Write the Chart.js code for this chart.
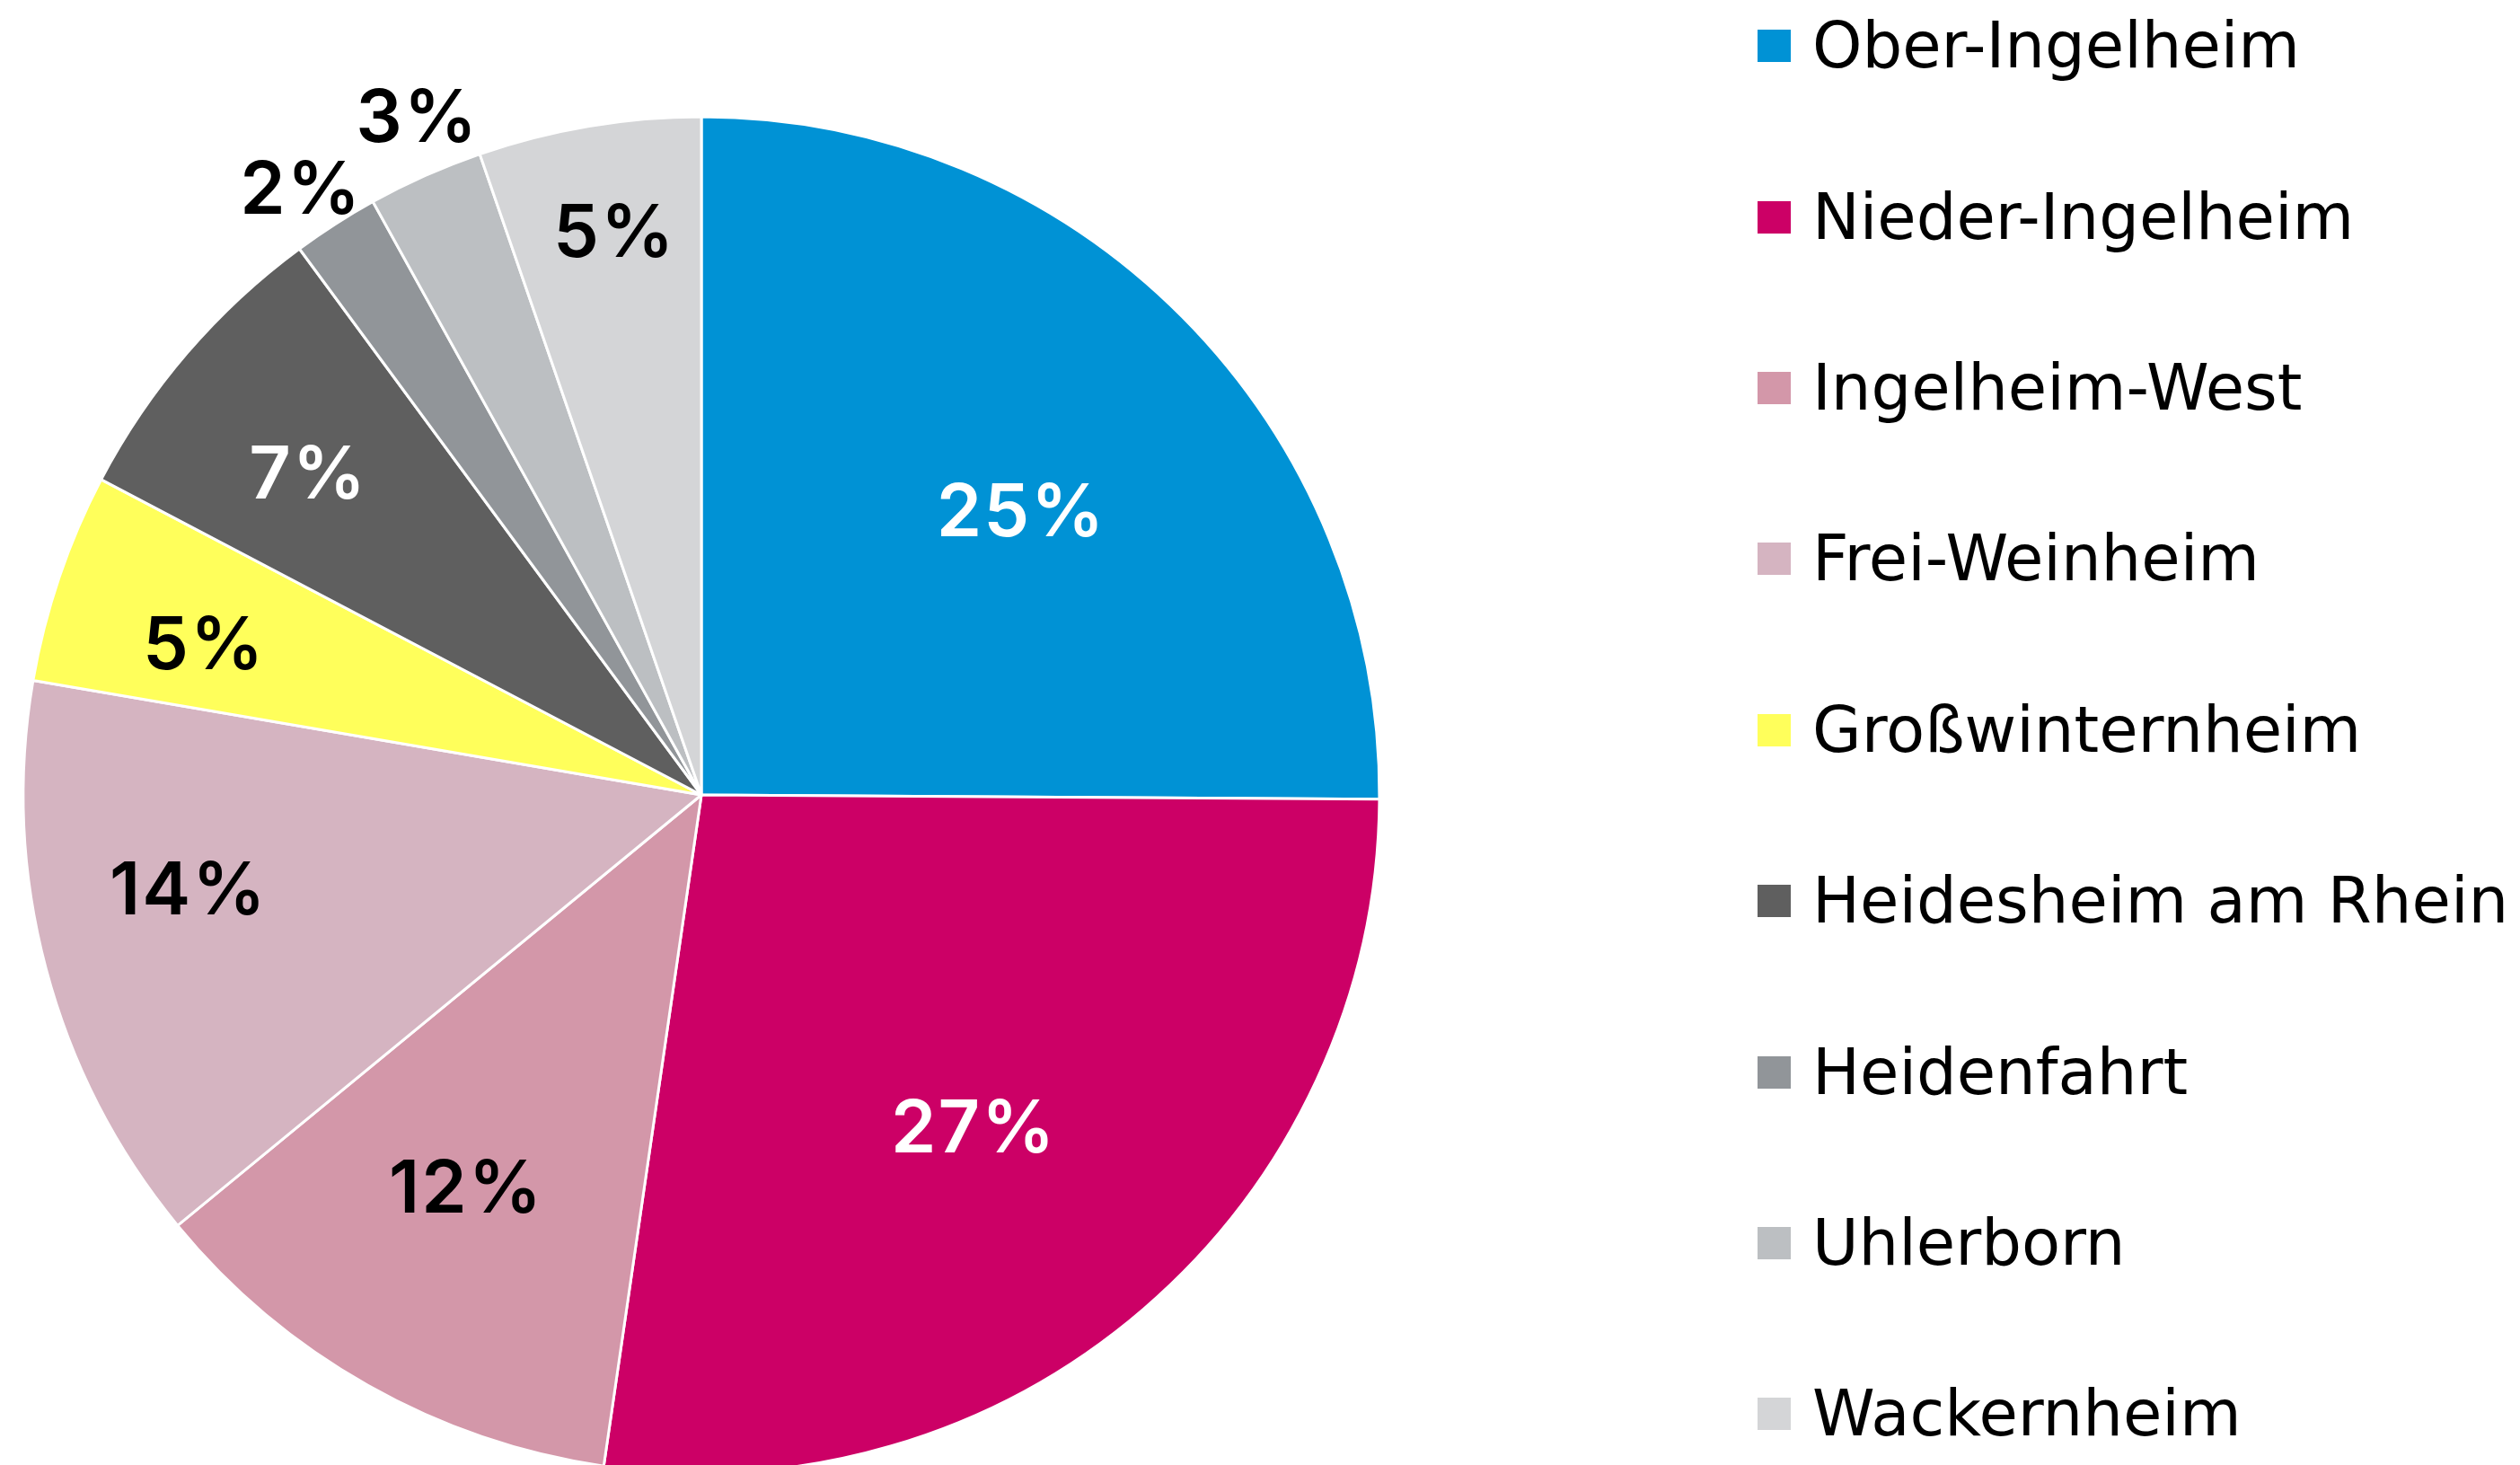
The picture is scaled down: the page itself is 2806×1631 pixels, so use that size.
<!DOCTYPE html>
<html>
<head>
<meta charset="utf-8">
<script src="https://cdn.jsdelivr.net/npm/chart.js@4.4.1/dist/chart.umd.min.js"></script>
<style>
  html, body { margin: 0; padding: 0; background: #fff; overflow: hidden; }
  body { width: 2806px; height: 1631px; position: relative; }
  #pieBox { position: absolute; left: 0; top: 0; width: 1562px; height: 1770px; }
  #legend {
    position: absolute; left: 1957px; top: -44px; margin: 0; padding: 0; list-style: none;
    font-family: 'DejaVu Sans', sans-serif; font-size: 70.5px; color: #000;
  }
  #legend li { height: 190.4px; display: flex; align-items: center; white-space: nowrap; }
  #legend .box { width: 37px; height: 36px; margin-right: 24px; flex: none; }
</style>
</head>
<body>
<div id="pieBox"><canvas id="chart"></canvas></div>
<ul id="legend"></ul>
<script>
// Stadtteile, Anteil in Prozent
const districts = [
  'Ober-Ingelheim', 'Nieder-Ingelheim', 'Ingelheim-West', 'Frei-Weinheim',
  'Großwinternheim', 'Heidesheim am Rhein', 'Heidenfahrt', 'Uhlerborn', 'Wackernheim'
];
const shares = [25.1, 27.2, 11.75, 13.65, 5.0, 7.2, 2.05, 2.75, 5.3];

const sliceColors = [
  '#0092d5', '#cc0066', '#d397a9', '#d5b4c1', '#ffff5b',
  '#5f5f5f', '#919599', '#bcbfc2', '#d4d5d7'
];
const labelColors = ['#fff', '#fff', '#000', '#000', '#000', '#fff', '#000', '#000', '#000'];
// [radius factor, angle shift in degrees] for the percent labels
const labelPlacement = [
  [0.627, 3.6], [0.637, 1.6], [0.679, 1.3], [0.77, 4.1], [0.765, -2.2],
  [0.746, -1.7], [1.068, -0.9], [1.08, 1.2], [0.835, 0.7]
];

const pctLabels = {
  id: 'pctLabels',
  afterDatasetsDraw(chart, args, opts) {
    const ctx = chart.ctx;
    const meta = chart.getDatasetMeta(0);
    const values = chart.data.datasets[0].data;
    const total = values.reduce((a, b) => a + b, 0);
    ctx.save();
    ctx.font = opts.font;
    ctx.letterSpacing = opts.spacing;
    ctx.textAlign = 'center';
    ctx.textBaseline = 'middle';
    meta.data.forEach((arc, i) => {
      const p = arc.getProps(['x', 'y', 'startAngle', 'endAngle', 'outerRadius'], true);
      const [f, shift] = opts.placement[i];
      const a = (p.startAngle + p.endAngle) / 2 + shift * Math.PI / 180;
      const r = p.outerRadius * f;
      ctx.fillStyle = opts.colors[i];
      ctx.fillText(Math.round(values[i] / total * 100) + '%', p.x + Math.cos(a) * r, p.y + Math.sin(a) * r);
    });
    ctx.restore();
  }
};

const htmlLegend = {
  id: 'htmlLegend',
  afterUpdate(chart) {
    const ul = document.getElementById('legend');
    ul.innerHTML = '';
    const ds = chart.data.datasets[0];
    chart.data.labels.forEach((name, i) => {
      const li = document.createElement('li');
      const box = document.createElement('span');
      box.className = 'box';
      box.style.background = ds.backgroundColor[i];
      li.appendChild(box);
      li.appendChild(document.createTextNode(name));
      ul.appendChild(li);
    });
  }
};

new Chart(document.getElementById('chart'), {
  type: 'pie',
  data: {
    labels: districts,
    datasets: [{
      data: shares,
      backgroundColor: sliceColors,
      borderColor: '#fff',
      borderWidth: 3
    }]
  },
  options: {
    responsive: true,
    maintainAspectRatio: false,
    animation: false,
    events: [],
    radius: 755,
    layout: { padding: 0 },
    plugins: {
      legend: { display: false },
      tooltip: { enabled: false },
      pctLabels: {
        font: '600 81px Inter',
        spacing: '2px',
        colors: labelColors,
        placement: labelPlacement
      }
    }
  },
  plugins: [pctLabels, htmlLegend]
});
</script>
</body>
</html>
